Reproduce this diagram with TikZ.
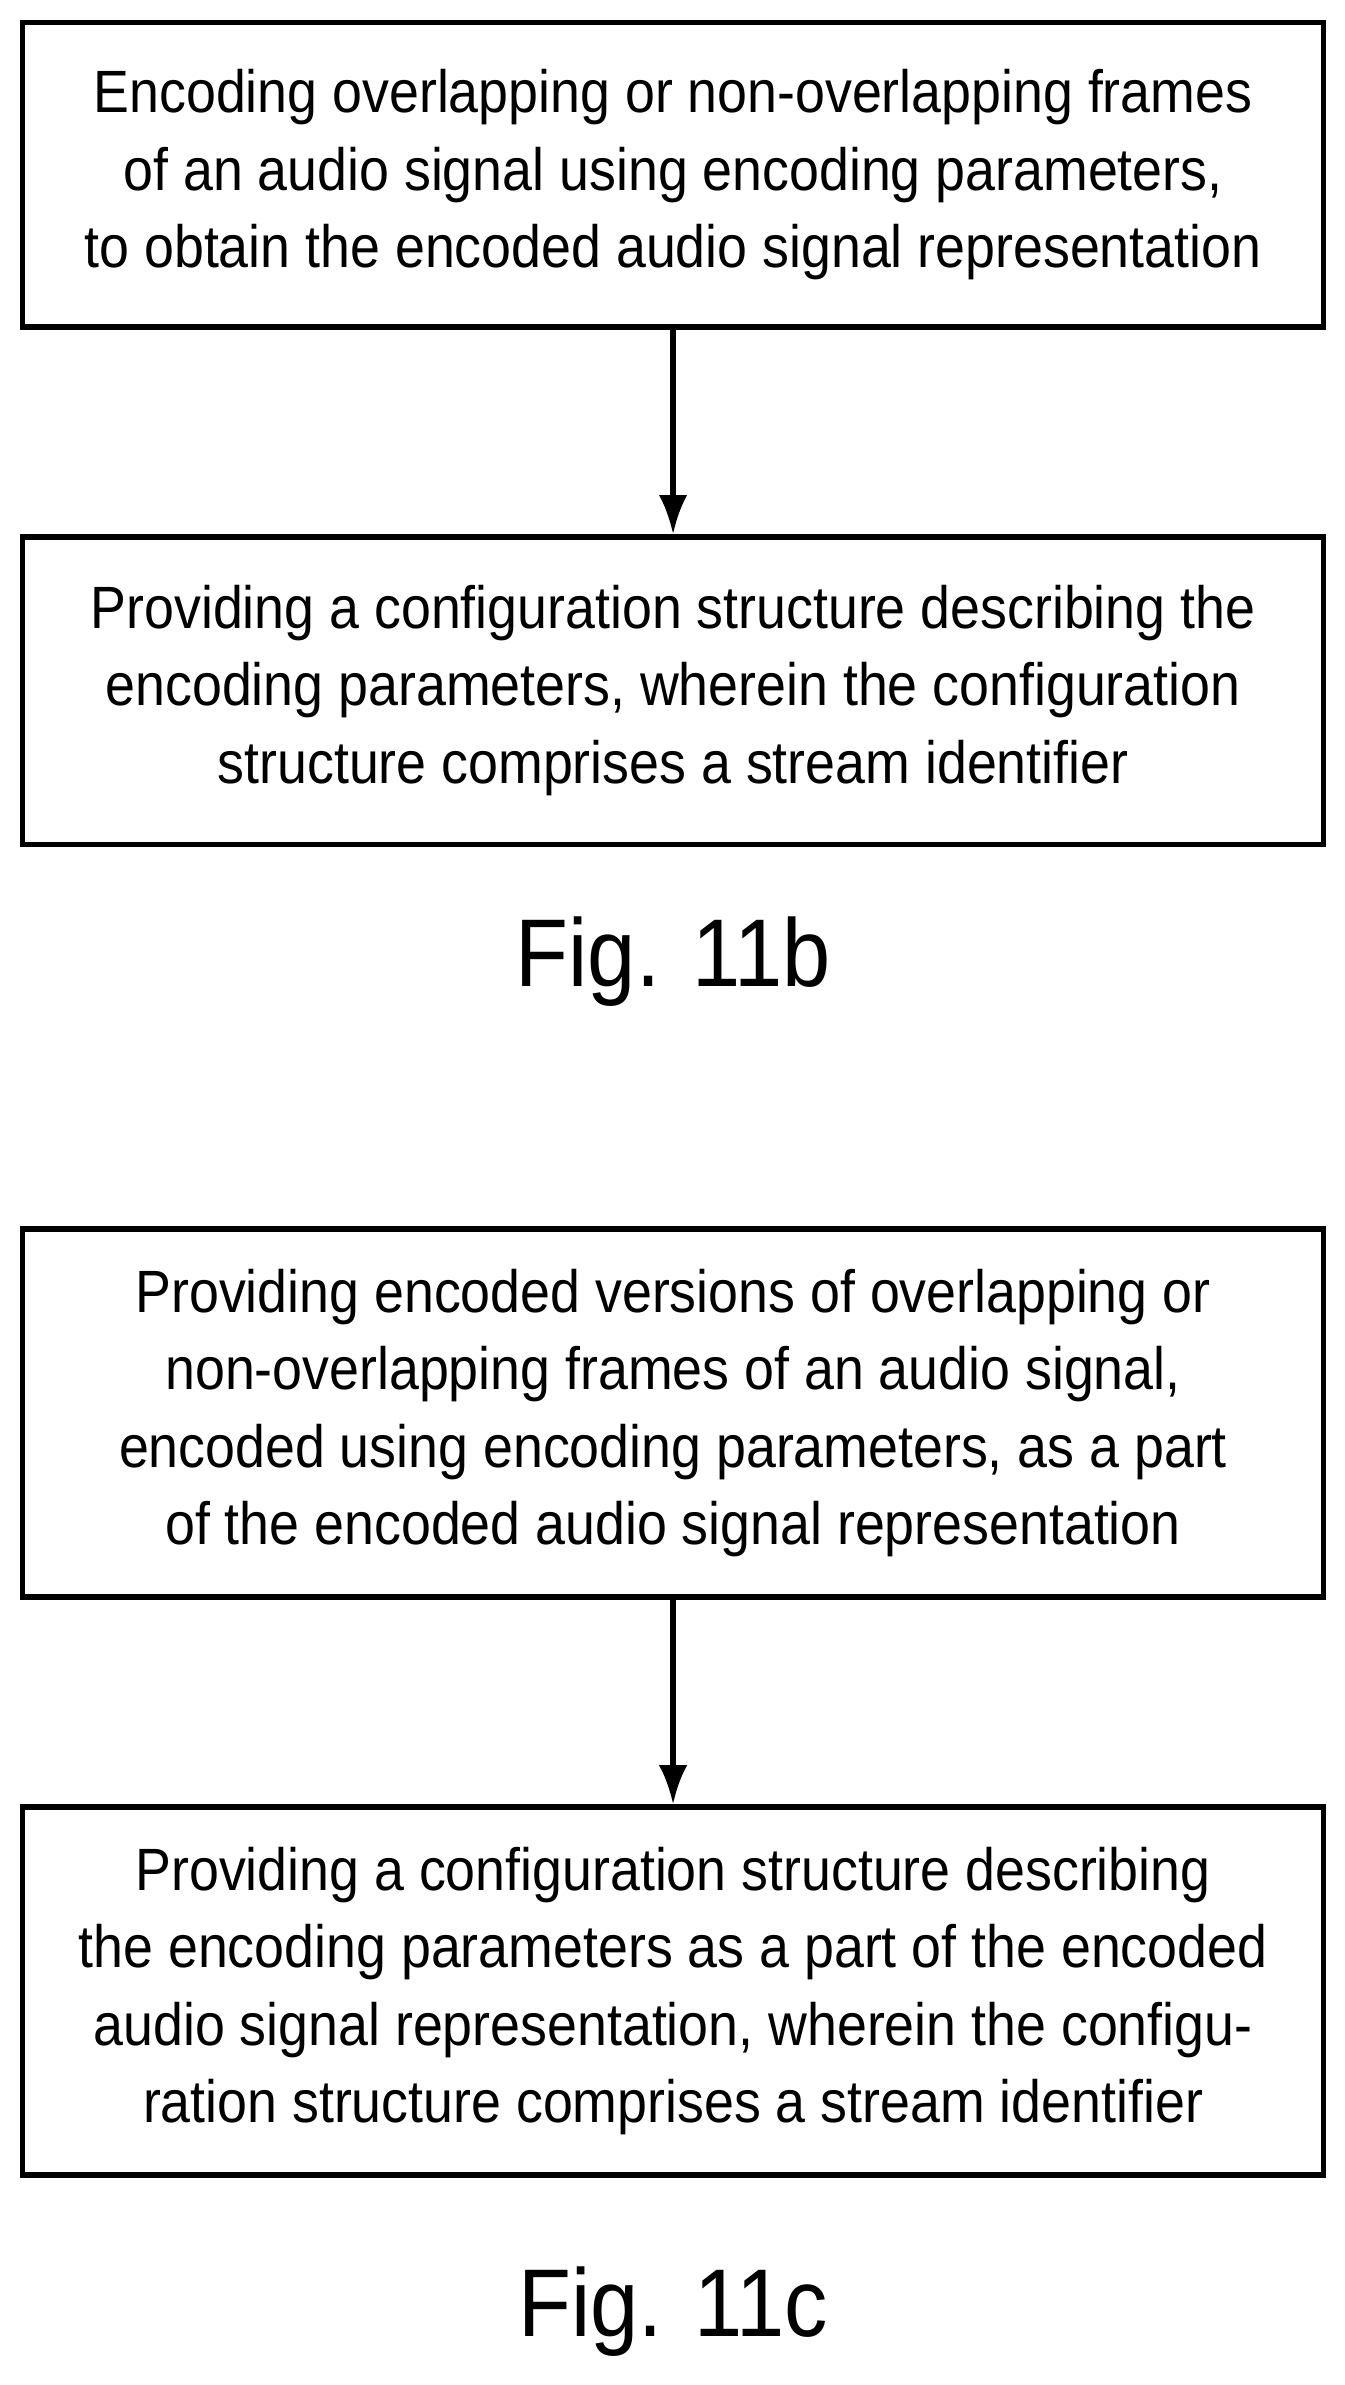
\documentclass[tikz,border=0pt]{standalone}
\usepackage{fontspec}
\setmainfont{Liberation Sans}[FakeStretch=0.9]
\usetikzlibrary{arrows.meta}
\begin{document}
\begin{tikzpicture}[x=0.03cm,y=-0.03cm,
  box/.style={draw,line width=3pt,minimum width=855*0.03cm,align=center,inner sep=0pt,font=\fontsize{33.5}{43.5}\selectfont},
  arr/.style={line width=3pt,-{Latex[length=22pt,width=16pt]}},
  figcap/.style={font=\fontsize{54}{60}\selectfont}]
\useasboundingbox (0,0) rectangle (884,1568);
\node[box,minimum height=200*0.03cm] (a) at (442.5,115) {Encoding overlapping or non-overlapping frames\\of an audio signal using encoding parameters,\\to obtain the encoded audio signal representation};
\node[box,minimum height=202*0.03cm] (b) at (442.5,454) {Providing a configuration structure describing the\\encoding parameters, wherein the configuration\\structure comprises a stream identifier};
\node[figcap] (f1) at (442.5,632) {Fig. 11b};
\node[box,minimum height=242*0.03cm] (c) at (442.5,929) {Providing encoded versions of overlapping or\\non-overlapping frames of an audio signal,\\encoded using encoding parameters, as a part\\of the encoded audio signal representation};
\node[box,minimum height=242*0.03cm] (d) at (442.5,1309) {Providing a configuration structure describing\\the encoding parameters as a part of the encoded\\audio signal representation, wherein the configu-\\ration structure comprises a stream identifier};
\node[figcap] (f2) at (442.5,1520) {Fig. 11c};
\draw[arr] (a) -- (b);
\draw[arr] (c) -- (d);
\end{tikzpicture}
\end{document}
